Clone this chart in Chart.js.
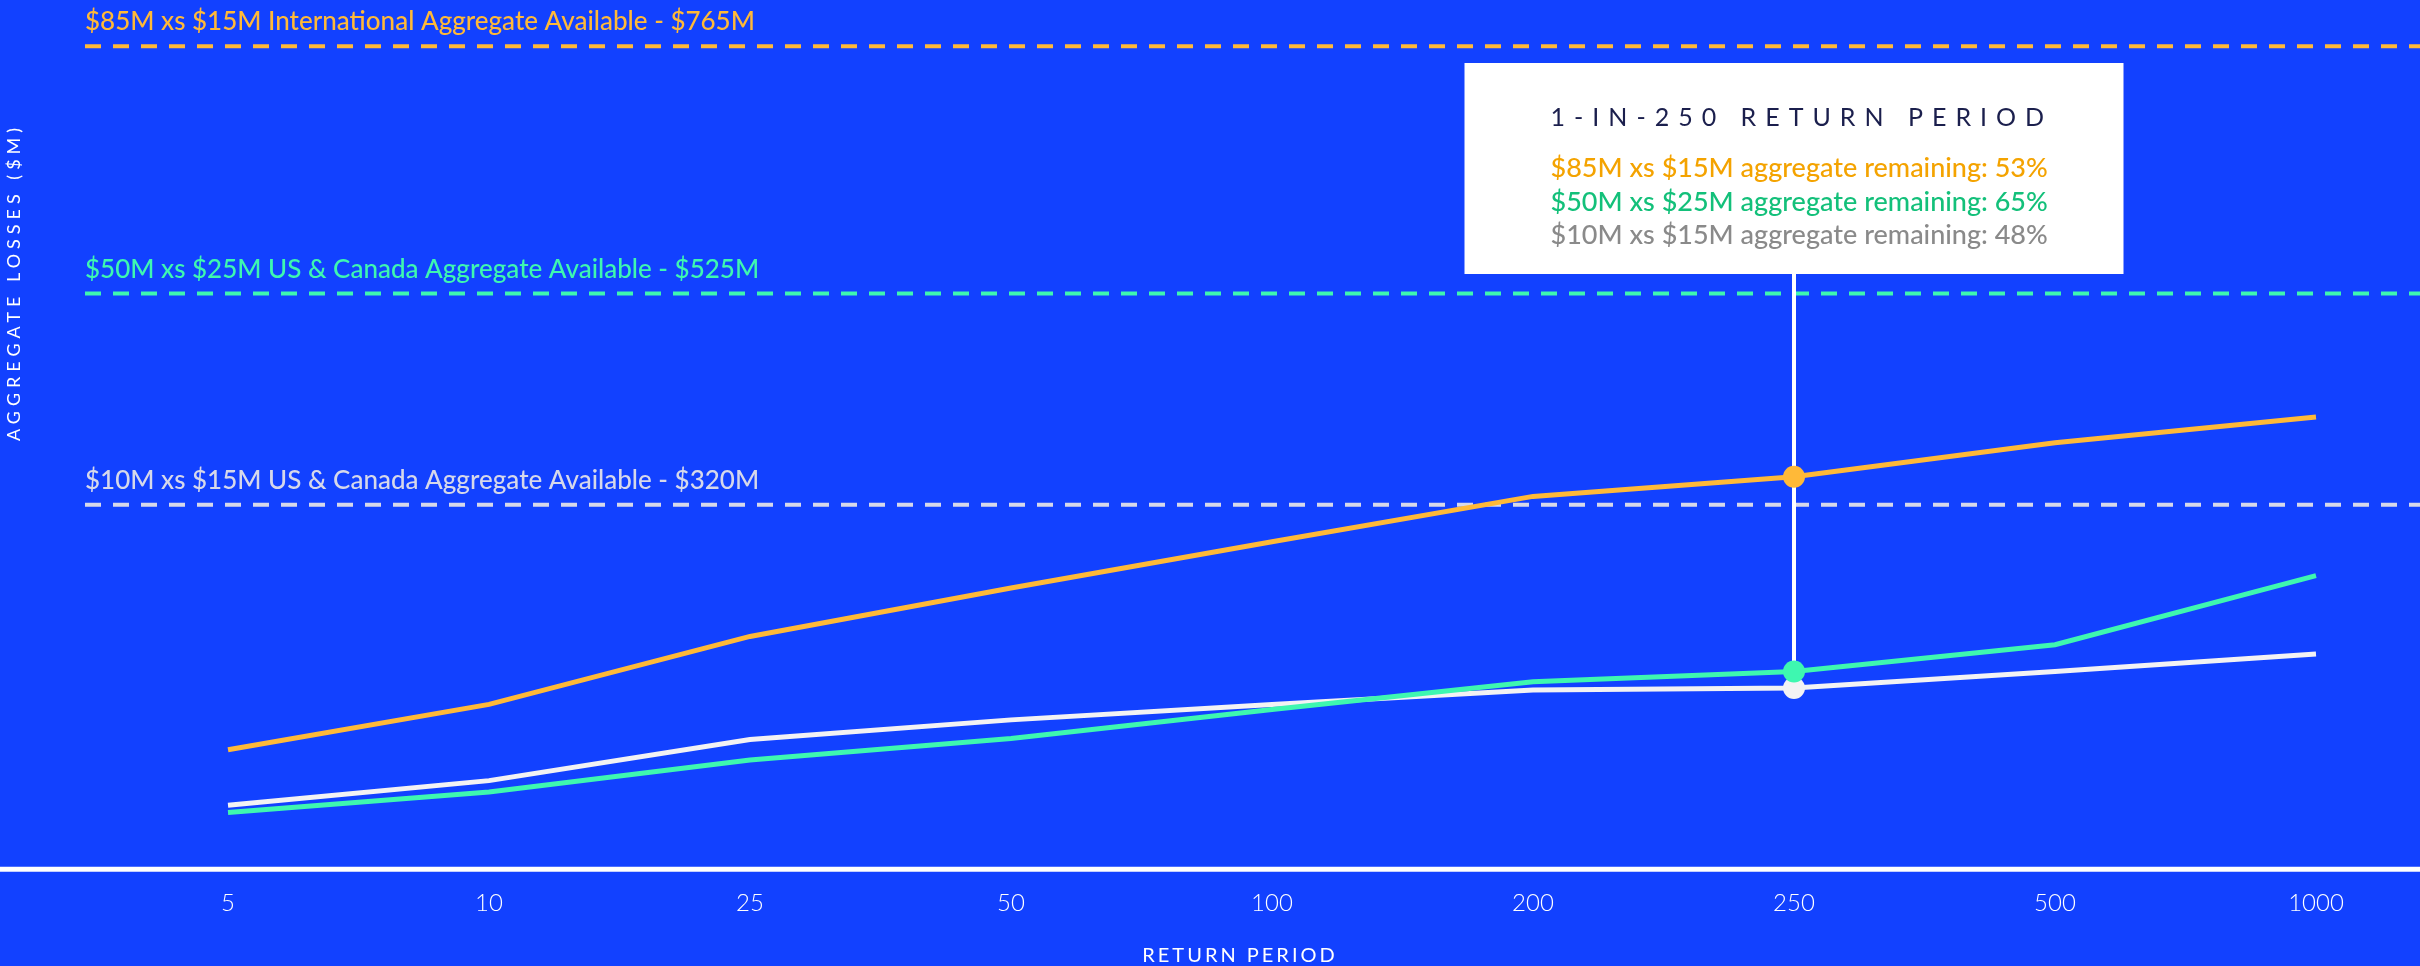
<!DOCTYPE html>
<html>
<head>
<meta charset="utf-8">
<script src="https://cdn.jsdelivr.net/npm/chart.js@4.4.1/dist/chart.umd.min.js"></script>
<style>
  html, body { margin: 0; padding: 0; background: #1241ff; }
  #wrap { width: 2420px; height: 966px; position: relative; }
</style>
</head>
<body>
<div id="wrap"><canvas id="myChart"></canvas></div>
<script>
// return periods on the x axis
const labels = ['5', '10', '25', '50', '100', '200', '250', '500', '1000'];

// aggregate losses ($M)
const intlLosses = [82, 126, 192, 239, 284, 328, 347, 380, 405];
const usCan50Losses = [21, 41, 72, 93, 121, 148, 158, 184, 251];
const usCan10Losses = [28, 52, 92, 111, 126, 140, 142, 158, 175];

// available aggregate per layer ($M)
const limitValues = [765, 525, 320];
const limitLabels = [
    '$85M xs $15M International Aggregate Available - $765M',
    '$50M xs $25M US & Canada Aggregate Available - $525M',
    '$10M xs $15M US & Canada Aggregate Available - $320M'
];

// callout at 1-in-250
const calloutIndex = 6;
const calloutTitle = '1-IN-250 RETURN PERIOD';
const layerNames = ['$85M xs $15M', '$50M xs $25M', '$10M xs $15M'];
const remainingPct = [53, 65, 48];

const FONT = 'Lato, "Noto Sans", sans-serif';
const lineColors = ['#ffb938', '#3ef7b0', '#f2f2f4'];
const dashColors = ['#ffb938', '#3ef7b0', '#d6d8ea'];
const calloutColors = ['#f4a300', '#13c07a', '#8a8a8a'];

const pointSize = function (ctx) {
    return ctx.dataIndex === calloutIndex ? 11 : 0;
};

const decor = {
    id: 'decor',
    beforeDraw(chart) {
        const ctx = chart.ctx;
        const y = chart.scales.y;
        ctx.save();
        ctx.fillStyle = '#1241ff';
        ctx.fillRect(0, 0, chart.width, chart.height);

        // limit lines
        limitValues.forEach(function (v, i) {
            const py = y.getPixelForValue(v);
            ctx.strokeStyle = dashColors[i];
            ctx.lineWidth = 4;
            ctx.setLineDash([16, 12]);
            ctx.beginPath();
            ctx.moveTo(85, py);
            ctx.lineTo(chart.width, py);
            ctx.stroke();
            ctx.setLineDash([]);
            ctx.fillStyle = dashColors[i];
            ctx.font = '500 26px ' + FONT;
            ctx.textBaseline = 'alphabetic';
            ctx.textAlign = 'left';
            ctx.fillText(limitLabels[i], 85, py - 16);
        });

        // bottom axis line across whole width
        const by = chart.chartArea.bottom;
        ctx.strokeStyle = '#ffffff';
        ctx.lineWidth = 5;
        ctx.beginPath();
        ctx.moveTo(0, by);
        ctx.lineTo(chart.width, by);
        ctx.stroke();

        // axis titles
        ctx.fillStyle = '#ffffff';
        ctx.letterSpacing = '5px';
        ctx.font = '400 18px ' + FONT;
        ctx.textAlign = 'center';
        ctx.textBaseline = 'middle';
        ctx.save();
        ctx.translate(14, 282);
        ctx.rotate(-Math.PI / 2);
        ctx.fillText('AGGREGATE LOSSES ($M)', 0, 0);
        ctx.restore();
        ctx.letterSpacing = '3px';
        ctx.font = '400 20px ' + FONT;
        ctx.textBaseline = 'top';
        ctx.fillText('RETURN PERIOD', chart.scales.x.getPixelForValue(4) - 32, 946);
        ctx.letterSpacing = '0px';
        ctx.restore();
    },
    beforeDatasetsDraw(chart) {
        const ctx = chart.ctx;
        const x = chart.scales.x.getPixelForValue(calloutIndex);
        const yEnd = chart.scales.y.getPixelForValue(usCan10Losses[calloutIndex]);
        ctx.save();
        ctx.strokeStyle = '#ffffff';
        ctx.lineWidth = 4;
        ctx.beginPath();
        ctx.moveTo(x, 274);
        ctx.lineTo(x, yEnd);
        ctx.stroke();
        ctx.restore();
    },
    afterDraw(chart) {
        const ctx = chart.ctx;
        const cx = chart.scales.x.getPixelForValue(calloutIndex);
        const w = 659, h = 211;
        const left = cx - w / 2, top = 63;
        ctx.save();
        ctx.fillStyle = '#ffffff';
        ctx.fillRect(left, top, w, h);
        ctx.textAlign = 'left';
        ctx.textBaseline = 'middle';
        ctx.fillStyle = '#1b1f4d';
        ctx.font = '400 25px ' + FONT;
        ctx.letterSpacing = '9px';
        ctx.fillText(calloutTitle, left + 86, 118);
        ctx.letterSpacing = '0px';
        ctx.font = '500 27px ' + FONT;
        const rowsY = [168, 202, 235];
        layerNames.forEach(function (name, i) {
            ctx.fillStyle = calloutColors[i];
            ctx.fillText(name + ' aggregate remaining: ' + remainingPct[i] + '%', left + 86, rowsY[i]);
        });
        ctx.restore();
    }
};

const data = {
    labels: labels,
    datasets: [{
        label: '$85M xs $15M International',
        data: intlLosses,
        borderColor: lineColors[0],
        backgroundColor: lineColors[0]
    }, {
        label: '$50M xs $25M US & Canada',
        data: usCan50Losses,
        borderColor: lineColors[1],
        backgroundColor: lineColors[1]
    }, {
        label: '$10M xs $15M US & Canada',
        data: usCan10Losses,
        borderColor: lineColors[2],
        backgroundColor: lineColors[2]
    }]
};

const config = {
    type: 'line',
    data: data,
    options: {
        responsive: true,
        maintainAspectRatio: false,
        animation: false,
        layout: { padding: { left: 228, right: 104, top: 0, bottom: 28 } },
        elements: {
            line: { borderWidth: 5, tension: 0 },
            point: { radius: pointSize, hoverRadius: pointSize, borderWidth: 0 }
        },
        plugins: {
            legend: { display: false },
            tooltip: { enabled: false }
        },
        scales: {
            x: {
                offset: false,
                grid: { display: false, drawTicks: false },
                border: { display: false },
                ticks: { color: '#ffffff', padding: 20, font: { family: FONT, size: 24, weight: 300 } }
            },
            y: {
                display: false,
                min: -34,
                max: 810
            }
        }
    },
    plugins: [decor]
};

const myChart = new Chart(document.getElementById('myChart'), config);
</script>
</body>
</html>
